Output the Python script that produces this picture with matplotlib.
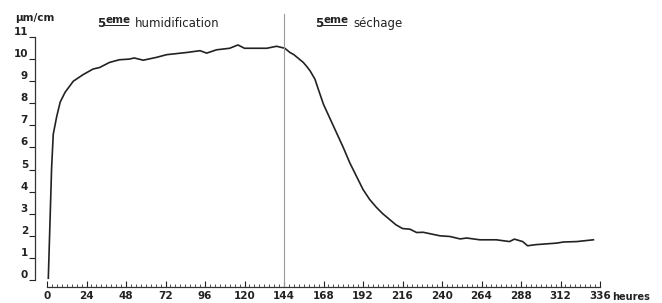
import matplotlib
matplotlib.use("Agg")
import matplotlib.pyplot as plt
from matplotlib.ticker import MultipleLocator
from matplotlib.lines import Line2D

hours = [0.8, 2.8, 3.8, 5.9, 8.0, 11, 16, 22, 28, 32, 38, 44, 50, 53, 58.5, 66.6,
         72.7, 85, 93, 97, 103, 111, 116, 120, 133.5, 139.5, 144.5, 147.6, 150,
         155.7, 158, 160, 162.8, 165, 168, 172, 176, 180, 184, 188, 192, 196, 200,
         204, 208, 212, 216, 220.5, 224.6, 228.6, 238.8, 244.8, 251, 255, 263, 273,
         281, 284, 289, 292, 297, 309.7, 313.7, 322, 332]
values = [0.08, 5.08, 6.6, 7.4, 8.05, 8.5, 9.0, 9.3, 9.55, 9.62, 9.85, 9.97, 10.0,
          10.05, 9.95, 10.08, 10.2, 10.3, 10.38, 10.27, 10.42, 10.49, 10.64, 10.49,
          10.49, 10.58, 10.49, 10.3, 10.2, 9.85, 9.65, 9.45, 9.09, 8.6, 7.95, 7.3,
          6.65, 6.0, 5.3, 4.7, 4.1, 3.65, 3.3, 3.0, 2.75, 2.5, 2.33, 2.30, 2.15,
          2.16, 2.0, 1.97, 1.86, 1.9, 1.82, 1.82, 1.74, 1.85, 1.74, 1.55, 1.6,
          1.67, 1.72, 1.74, 1.82]
x_ticks = list(range(0, 337, 24))
y_ticks = list(range(0, 12))
phase_change = 144

W, H = 662, 303
fig = plt.figure(figsize=(W / 100, H / 100), dpi=100)
plt.rcParams['font.family'] = ['DejaVu Sans']

def fx(x):
    return x / W

def fy(y):
    return 1 - y / H

x0, x1 = 47, 600
y0, y1 = 280, 37
ax = fig.add_axes([fx(x0), fy(y0), (x1 - x0) / W, (y0 - y1) / H])
ax.set_xlim(0, 336)
ax.set_ylim(0, 11)

ax.plot(hours, values, color='#222222', lw=1.2, solid_joinstyle='round')
ax.plot([phase_change, phase_change], [-0.32, 12.05], color='#999999', lw=0.8,
        clip_on=False)

for s in ['top', 'right']:
    ax.spines[s].set_visible(False)
ax.spines['left'].set_position(('outward', 12 * 0.72))
ax.spines['bottom'].set_position(('outward', 7 * 0.72))
ax.spines['left'].set_bounds(0, 11)
ax.spines['bottom'].set_bounds(0, 336)
for s in ['left', 'bottom']:
    ax.spines[s].set_linewidth(0.9)
    ax.spines[s].set_color('#333333')

ax.set_xticks(x_ticks)
ax.xaxis.set_minor_locator(MultipleLocator(3))
ax.set_yticks(y_ticks)
ax.tick_params(axis='x', which='major', direction='in', length=4, width=0.8,
               labelsize=7.5, pad=3, colors='#222222')
ax.tick_params(axis='x', which='minor', direction='in', length=2, width=0.6,
               colors='#333333')
ax.tick_params(axis='y', which='major', direction='out', length=4, width=0.8,
               labelsize=7.5, pad=1, colors='#222222')
for lab in ax.get_yticklabels():
    lab.set_verticalalignment('bottom')
for lab in ax.get_xticklabels() + ax.get_yticklabels():
    lab.set_fontweight('bold')

tc = '#222222'
fs = 7.5
fig.text(fx(15), fy(18), 'µm/cm', fontsize=fs, color=tc, va='center', ha='left',
         fontweight='bold')
fig.text(fx(612), fy(297.5), 'heures', fontsize=7, color=tc, va='center',
         ha='left', fontweight='bold')

def phase_title(xs, word):
    fig.text(fx(xs - 1), fy(23.5), '5', fontsize=8.5, color=tc, va='center',
             ha='left', fontweight='bold')
    fig.text(fx(xs + 7), fy(20), 'eme', fontsize=7.5, color=tc, va='center',
             ha='left', fontweight='bold')
    fig.add_artist(Line2D([fx(xs + 7), fx(xs + 30)], [fy(24.5), fy(24.5)],
                          transform=fig.transFigure, color=tc, lw=0.7))
    fig.text(fx(xs + 37), fy(23.5), word, fontsize=8.5, color=tc, va='center',
             ha='left')

phase_title(98, 'humidification')
phase_title(316, 'séchage')

fig.savefig('out.png', dpi=100)
